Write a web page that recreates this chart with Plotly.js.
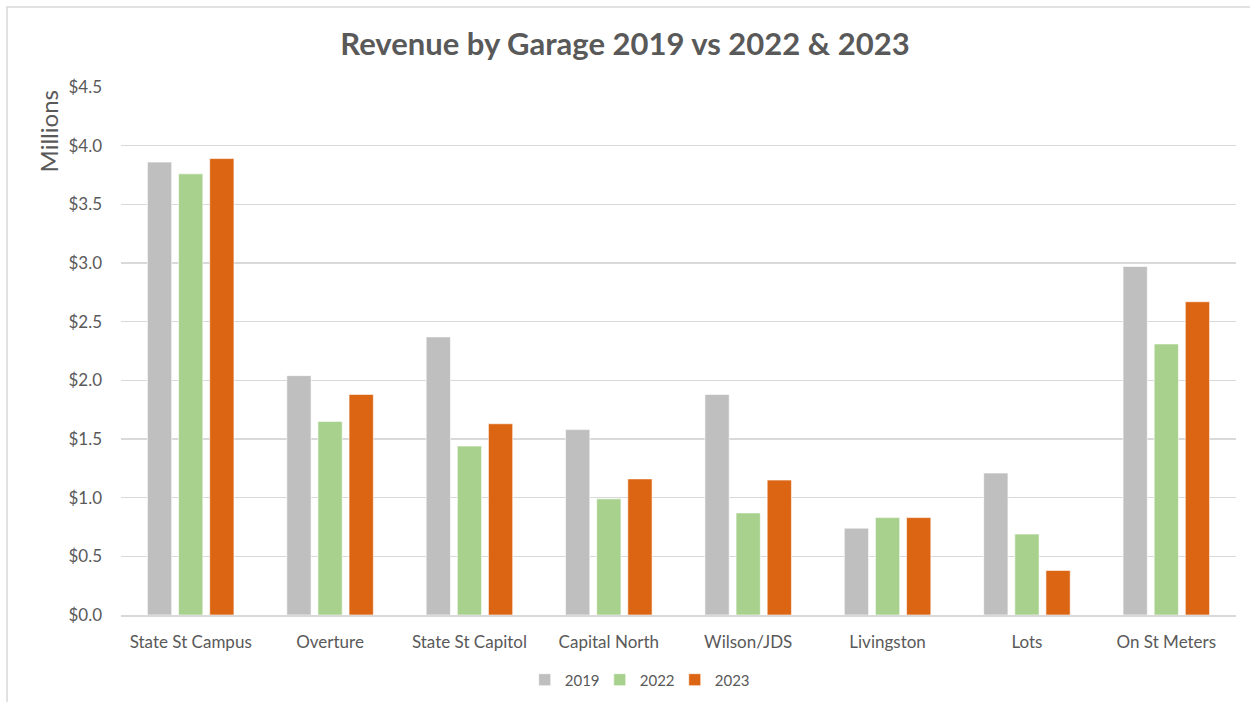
<!DOCTYPE html>
<html>
<head>
<meta charset="utf-8">
<script src="https://cdn.plot.ly/plotly-3.0.1.min.js"></script>
<style>
html,body{margin:0;padding:0;background:#fff;}
#chart{width:1250px;height:702px;}
</style>
</head>
<body>
<div id="chart"></div>
<script>
const categories = ["State St Campus","Overture","State St Capitol","Capital North","Wilson/JDS","Livingston","Lots","On St Meters"];
const rev2019 = [3.86, 2.04, 2.37, 1.58, 1.88, 0.74, 1.21, 2.97];
const rev2022 = [3.76, 1.65, 1.44, 0.99, 0.87, 0.83, 0.69, 2.31];
const rev2023 = [3.89, 1.88, 1.63, 1.16, 1.15, 0.83, 0.38, 2.67];
const yTicks = [0, 0.5, 1.0, 1.5, 2.0, 2.5, 3.0, 3.5, 4.0, 4.5];

const FONT = "Lato, Open Sans, sans-serif";
const TXT = "#595959";

function series(name, vals, color){
  return {type:"bar", name:name, x:categories, y:vals,
    marker:{color:color, line:{color:"rgba(255,255,255,0.6)", width:1}},
    hoverinfo:"y"};
}

const data = [
  series("2019", rev2019, "#bfbfbf"),
  series("2022", rev2022, "#a9d18e"),
  series("2023", rev2023, "#dc6513")
];

const layout = {
  width:1250, height:702,
  margin:{l:121, r:14, t:87, b:87, autoexpand:false},
  paper_bgcolor:"#fff", plot_bgcolor:"#fff",
  font:{family:FONT, color:TXT, size:17},
  title:{text:"<b>Revenue by Garage 2019 vs 2022 & 2023</b>", x:0.5, xanchor:"center", y:0.937, yanchor:"middle",
    font:{family:FONT, size:31, color:TXT}},
  barmode:"group", bargap:0.33, bargroupgap:0.22,
  xaxis:{type:"category", showgrid:false, showline:true, linecolor:"#d9d9d9", linewidth:1.5,
    ticks:"", tickfont:{size:17, color:TXT}, ticklabelstandoff:11, fixedrange:true},
  yaxis:{range:[0,4.5], tickvals:yTicks, tickformat:"$.1f", showgrid:true, gridcolor:"#d9d9d9", gridwidth:1.2,
    zeroline:false, showline:false, ticks:"", ticklabelstandoff:18, tickfont:{size:17, color:TXT}, fixedrange:true},
  showlegend:true,
  legend:{orientation:"h", x:0.463, xanchor:"center", y:-0.123, yanchor:"middle", font:{size:15, color:TXT},
    itemwidth:30, entrywidth:30, entrywidthmode:"pixels", traceorder:"normal"},
  annotations:[{text:"Millions", textangle:-90, xref:"paper", yref:"paper", x:-0.065, y:0.915,
    xanchor:"center", yanchor:"middle", showarrow:false, font:{size:24, color:TXT}}],
  shapes:[{type:"rect", xref:"paper", yref:"paper", x0:-0.1022, x1:1.05, y0:-0.3, y1:1.1515,
    line:{color:"#d9d9d9", width:1.5}, fillcolor:"rgba(0,0,0,0)", layer:"below"}]
};

Plotly.newPlot("chart", data, layout, {displayModeBar:false, staticPlot:true});
</script>
</body>
</html>
